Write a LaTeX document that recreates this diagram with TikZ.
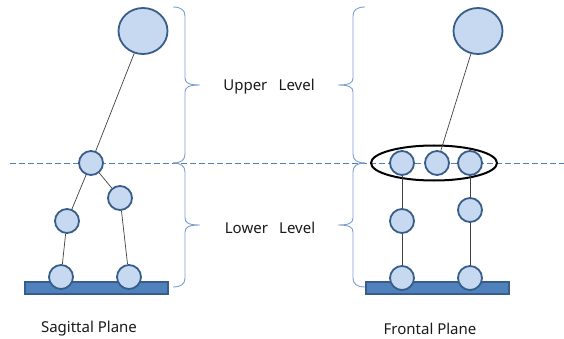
\documentclass[tikz,border=0pt]{standalone}
\usepackage{fontspec}
\setmainfont{Noto Sans}
\usetikzlibrary{shapes.geometric}
\definecolor{jfill}{RGB}{198,217,241}
\definecolor{jdraw}{RGB}{56,93,138}
\definecolor{barfill}{RGB}{79,129,189}
\definecolor{bracec}{RGB}{125,158,206}
\definecolor{dashc}{RGB}{79,129,189}
\definecolor{linkc}{RGB}{64,64,64}
\tikzset{
  joint/.style={circle, draw=jdraw, fill=jfill, line width=1.8pt, minimum size=24pt, inner sep=0pt},
  headj/.style={ellipse, draw=jdraw, fill=jfill, line width=1.8pt, minimum width=49pt, minimum height=46pt, inner sep=0pt},
  groundbar/.style={rectangle, draw=jdraw, fill=barfill, line width=1.2pt, minimum width=143pt, minimum height=12pt, inner sep=0pt},
  link/.style={draw=linkc, line width=0.7pt},
  bracestyle/.style={draw=bracec, line width=0.9pt},
  midline/.style={draw=dashc, line width=0.8pt, dash pattern=on 6pt off 3pt},
  pelvisring/.style={ellipse, draw=black, line width=2pt, minimum width=126pt, minimum height=35pt, inner sep=0pt},
  lbl/.style={font=\fontsize{15}{17}\selectfont, text=black!90, inner sep=0pt}
}
\newcommand{\mybrace}[4]{%
 \pgfmathsetmacro{\ym}{(#2+#3)/2}%
 \draw[bracestyle] (#1,#2) .. controls ({#1+#4*8},#2) and ({#1+#4*12},{#2+3}) .. ({#1+#4*12},{#2+9}) -- ({#1+#4*12},{\ym-7}) .. controls ({#1+#4*12},{\ym-2}) and ({#1+#4*16},\ym) .. ({#1+#4*27},\ym) .. controls ({#1+#4*16},\ym) and ({#1+#4*12},{\ym+2}) .. ({#1+#4*12},{\ym+7}) -- ({#1+#4*12},{#3-9}) .. controls ({#1+#4*12},{#3-3}) and ({#1+#4*8},#3) .. (#1,#3);}
\begin{document}
\begin{tikzpicture}[x=1pt,y=-1pt]
\useasboundingbox (0,0) rectangle (564,339);
% midline
\coordinate (ms) at (10,163);
\coordinate (me) at (564,163);
\draw[midline] (ms) -- (me);
% braces
\mybrace{173}{7}{163}{1}
\mybrace{173}{163}{287}{1}
\mybrace{365}{7}{163}{-1}
\mybrace{365}{163}{287}{-1}
% sagittal
\node[groundbar] (sbar) at (96.5,288) {};
\node[headj] (shead) at (143,31) {};
\node[joint] (ship) at (91,163) {};
\node[joint] (srk) at (120,198) {};
\node[joint] (slk) at (67,221) {};
\node[joint] (slf) at (61,277) {};
\node[joint] (srf) at (129,277) {};
\draw[link] (shead) -- (ship);
\draw[link] (ship) -- (slk);
\draw[link] (ship) -- (srk);
\draw[link] (slk) -- (slf);
\draw[link] (srk) -- (srf);
% frontal
\node[groundbar] (fbar) at (437.5,288) {};
\node[pelvisring] (fring) at (434,163) {};
\node[headj] (fhead) at (478,31) {};
\node[joint] (flh) at (402,163) {};
\node[joint] (fmh) at (437,163) {};
\node[joint] (frh) at (470,163) {};
\node[joint] (flk) at (402,221) {};
\node[joint] (frk) at (470,210) {};
\node[joint] (flf) at (402,278) {};
\node[joint] (frf) at (470,278) {};
\draw[link] (fhead) -- (fmh);
\draw[link] (flh) -- (flk);
\draw[link] (flk) -- (flf);
\draw[link] (frh) -- (frk);
\draw[link] (frk) -- (frf);
% labels
\node[lbl] (tup) at (269,87) {Upper\hspace{0.75em}Level};
\node[lbl] (tlow) at (270,228) {Lower\hspace{0.75em}Level};
\node[lbl] (tsag) at (89,329) {Sagittal Plane};
\node[lbl] (tfro) at (430,329) {Frontal Plane};
\end{tikzpicture}
\end{document}
